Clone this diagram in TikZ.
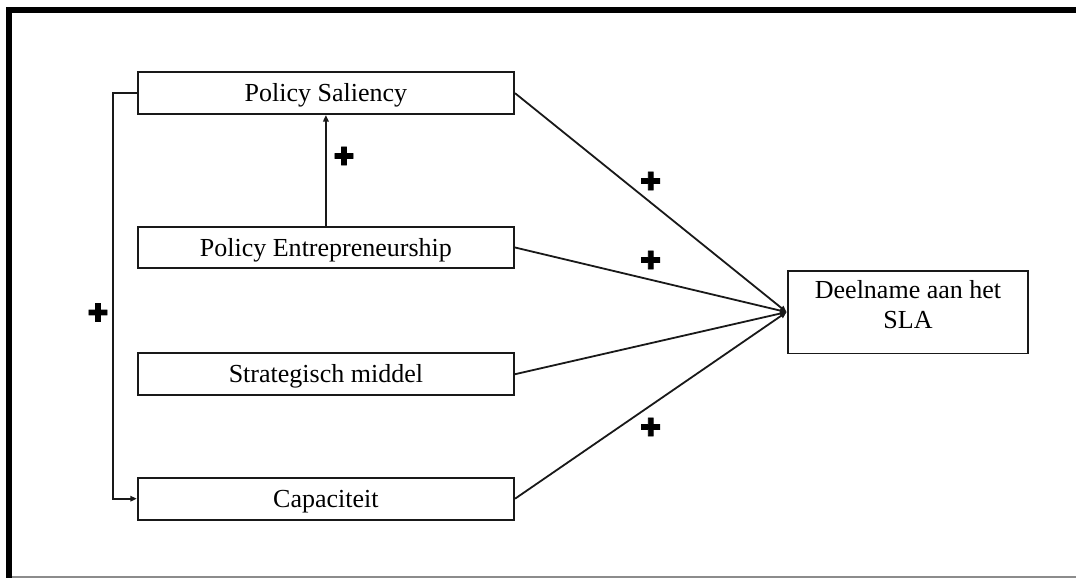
\documentclass[tikz,border=0pt]{standalone}
\usepackage{fontspec}
\setmainfont{Liberation Serif}
\newfontfamily\plusfont[FakeBold=3]{DejaVu Sans}
\usetikzlibrary{arrows.meta}
\begin{document}
\begin{tikzpicture}[x=1pt,y=-1pt,
  box/.style={draw=black!90, line width=1.9pt, minimum width=376.4pt, minimum height=41.8pt,
    inner sep=0pt, text height=17.2pt, text depth=0pt, font=\fontsize{26}{30}\selectfont},
  conn/.style={line width=1.8pt, draw=black!90},
  tipped/.style={-{Triangle[length=6.5pt,width=5.5pt]}},
  plusmark/.style={font=\plusfont\fontsize{25}{25}\selectfont, inner sep=0pt}]
\useasboundingbox (0,0) rectangle (1076,578);
\fill[white] (0,0) rectangle (1076,578);
% frame
\draw[line width=6.2pt] (9.3,578) -- (9.3,10.3) -- (1076,10.3);
\draw[black!45, line width=1.5pt] (12.4,577) -- (1076,577);
% boxes
\node[box] (ps) at (325.9,93.2) {Policy Saliency};
\node[box] (pe) at (325.9,247.5) {Policy Entrepreneurship};
\node[box] (sm) at (325.9,374.2) {Strategisch middel};
\node[box] (ca) at (325.9,498.7) {Capaciteit};
\node[draw=black!90, line width=1.9pt, minimum width=240pt, minimum height=82.8pt, inner sep=0pt] (dl) at (908,312.1) {};
\node[anchor=north, align=center, inner sep=0pt, font=\fontsize{26}{29.5}\selectfont] (dlt) at (908,280.6) {Deelname aan het\\SLA};
% connectors
\draw[conn, tipped] (pe.north) -- (ps.south);
\draw[conn, tipped] (ps.west) -- ++(-24,0) |- (ca.west);
\coordinate (meet) at ([xshift=-0.5pt]dl.west);
\draw[conn, tipped] (ps.east) -- (meet);
\draw[conn, tipped] (pe.east) -- (meet);
\draw[conn, tipped] (sm.east) -- (meet);
\draw[conn, tipped] (ca.east) -- (meet);
% plus signs
\node[plusmark] (p1) at (344,156) {✚};
\node[plusmark] (p2) at (98,312.5) {✚};
\node[plusmark] (p3) at (650.7,181) {✚};
\node[plusmark] (p4) at (650.7,260) {✚};
\node[plusmark] (p5) at (650.7,427) {✚};
\end{tikzpicture}
\end{document}
